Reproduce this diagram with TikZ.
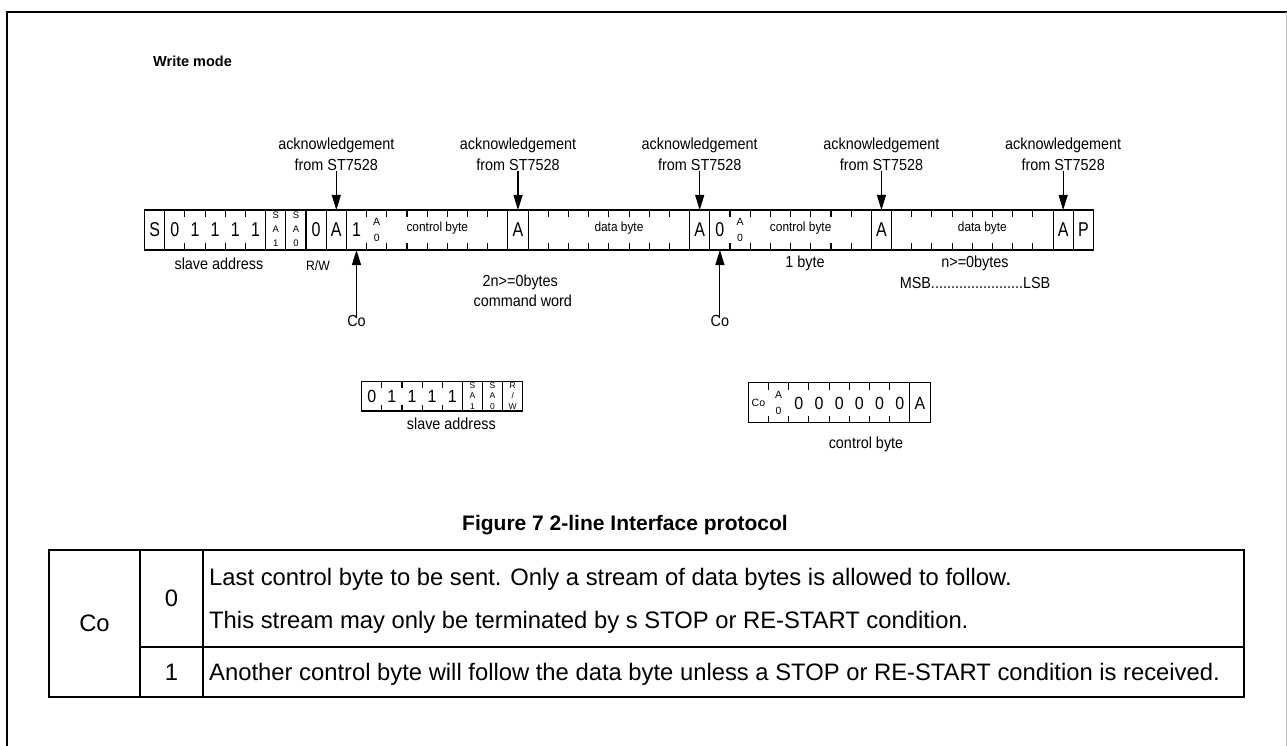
\documentclass[tikz,border=0pt]{standalone}
\usepackage{fontspec}
\setmainfont{Liberation Sans}
\newfontfamily\nf{Liberation Sans}[FakeStretch=0.9]
\usetikzlibrary{arrows.meta}
\newcommand\vst[2][1.25]{\scalebox{1}[#1]{#2}}
\begin{document}
\begin{tikzpicture}[x=1pt,y=-1pt,
  lbl/.style={inner sep=0pt, font=\nf\fontsize{16}{18}\selectfont},
  big/.style={inner sep=0pt, font=\fontsize{16}{16}\selectfont},
  stk/.style={inner sep=0pt, align=center, font=\fontsize{9.5}{13.8}\selectfont},
  stks/.style={inner sep=0pt, align=center, font=\fontsize{8.5}{10.9}\selectfont},
  ao/.style={inner sep=0pt, align=center, font=\fontsize{10.5}{16.8}\selectfont},
  fld/.style={inner sep=0pt, font=\nf\fontsize{13.2}{15}\selectfont},
  cell/.style={line width=1.1pt},
  arr/.style={-{Triangle[length=15pt,width=9pt]}, line width=1.1pt},
  tbl/.style={line width=2pt},
  ttx/.style={inner sep=0pt, font=\fontsize{23.8}{28}\selectfont},
]
\useasboundingbox (0,0) rectangle (1287,746);
% frame
\draw[line width=2pt] (7.3,760) -- (7.3,11.7) -- (1290,11.7);
\draw[gray!50, line width=0.8pt] (1286,11.7) -- (1286,760);

\node[anchor=base west, inner sep=0pt, font=\bfseries\fontsize{14.5}{17}\selectfont] (title) at (153,67) {Write mode};

% ---------------- main bar ----------------
\def\bx{144.5}\def\bw{20.19}
\draw[cell] (\bx,210) rectangle ({\bx+\bw*47},250);
\foreach \i in {1,6,7,8,9,10,18,19,27,28,36,37,45,46}
  \draw[cell] ({\bx+\bw*\i},210) -- ++(0,40);
\foreach \i in {2,...,5} {\draw[cell] ({\bx+\bw*\i},210) -- ++(0,7); \draw[cell] ({\bx+\bw*\i},250) -- ++(0,-7);}
\foreach \i in {11,...,17} {\draw[cell] ({\bx+\bw*\i},210) -- ++(0,7); \draw[cell] ({\bx+\bw*\i},250) -- ++(0,-7);}
\foreach \i in {20,...,26} {\draw[cell] ({\bx+\bw*\i},210) -- ++(0,7); \draw[cell] ({\bx+\bw*\i},250) -- ++(0,-7);}
\foreach \i in {29,...,35} {\draw[cell] ({\bx+\bw*\i},210) -- ++(0,7); \draw[cell] ({\bx+\bw*\i},250) -- ++(0,-7);}
\foreach \i in {38,...,44} {\draw[cell] ({\bx+\bw*\i},210) -- ++(0,7); \draw[cell] ({\bx+\bw*\i},250) -- ++(0,-7);}

\node[big] (b0) at ({\bx+\bw*0.5},229.5) {\vst{S}};
\node[big] (b1) at ({\bx+\bw*1.5},229.5) {\vst{0}};
\node[big] (b2) at ({\bx+\bw*2.5},229.5) {\vst{1}};
\node[big] (b3) at ({\bx+\bw*3.5},229.5) {\vst{1}};
\node[big] (b4) at ({\bx+\bw*4.5},229.5) {\vst{1}};
\node[big] (b5) at ({\bx+\bw*5.5},229.5) {\vst{1}};
\node[stk] (b6) at ({\bx+\bw*6.5},229) {S\\A\\1};
\node[stk] (b7) at ({\bx+\bw*7.5},229) {S\\A\\0};
\node[big] (b8) at ({\bx+\bw*8.5},229.5) {\vst{0}};
\node[big] (b9) at ({\bx+\bw*9.5},229.5) {\vst{A}};
\node[big] (b10) at ({\bx+\bw*10.5},229.5) {\vst{1}};
\node[ao] (b11) at ({\bx+\bw*11.5},230) {A\\0};
\node[fld, anchor=base] (cb1) at ({\bx+\bw*14.5},231.7) {control byte};
\node[big] (b18) at ({\bx+\bw*18.5},229.5) {\vst{A}};
\node[fld, anchor=base] (db1) at ({\bx+\bw*23.5},231.7) {data byte};
\node[big] (b27) at ({\bx+\bw*27.5},229.5) {\vst{A}};
\node[big] (b28) at ({\bx+\bw*28.5},229.5) {\vst{0}};
\node[ao] (b29) at ({\bx+\bw*29.5},230) {A\\0};
\node[fld, anchor=base] (cb2) at ({\bx+\bw*32.5},231.7) {control byte};
\node[big] (b36) at ({\bx+\bw*36.5},229.5) {\vst{A}};
\node[fld, anchor=base] (db2) at ({\bx+\bw*41.5},231.7) {data byte};
\node[big] (b45) at ({\bx+\bw*45.5},229.5) {\vst{A}};
\node[big] (b46) at ({\bx+\bw*46.5},229.5) {\vst{P}};

% acknowledgement arrows
\foreach \i/\n in {9/1,18/2,27/3,36/4,45/5} {
  \coordinate (t\n) at ({\bx+\bw*(\i+0.5)},210);
  \node[lbl, anchor=base] (ackA\n) at ({\bx+\bw*(\i+0.5)},149.3) {acknowledgement};
  \node[lbl, anchor=base] (ack\n) at ({\bx+\bw*(\i+0.5)},170.7) {from ST7528};
  \draw[arr] (ack\n.base) -- (t\n);
}

% Co arrows
\coordinate (u1) at ({\bx+\bw*10.5},250);
\coordinate (u2) at ({\bx+\bw*28.5},250);
\node[lbl, anchor=base] (co1) at ({\bx+\bw*10.5},326.7) {Co};
\node[lbl, anchor=base] (co2) at ({\bx+\bw*28.5},326.7) {Co};
\draw[arr] ([yshift=-3pt]co1.north) -- (u1);
\draw[arr] ([yshift=-3pt]co2.north) -- (u2);

% labels below the bar
\node[lbl, anchor=base] (sa) at (219,269) {slave address};
\node[inner sep=0pt, font=\nf\fontsize{13.5}{15}\selectfont, anchor=base] (rw) at (318,270) {R/W};
\node[lbl, anchor=base] (n2) at (520.3,286.5) {2n>=0bytes};
\node[lbl, anchor=base] (cw) at (522.8,306.5) {command word};
\node[lbl, anchor=base] (ob) at (805,267) {1 byte};
\node[lbl, anchor=base] (nb) at (975,267) {n>=0bytes};
\node[lbl, anchor=base] (ml) at (975,288) {MSB.......................LSB};

% ---------------- slave address box ----------------
\def\sx{361.7}\def\sw{20.13}
\draw[cell] (\sx,381.7) rectangle ({\sx+\sw*8},411);
\foreach \i in {5,6,7} \draw[cell] ({\sx+\sw*\i},381.7) -- (({\sx+\sw*\i},411);
\foreach \i in {1,...,4} {\draw[cell] ({\sx+\sw*\i},381.7) -- ++(0,6); \draw[cell] ({\sx+\sw*\i},411) -- ++(0,-6);}
\node[big] (s0) at ({\sx+\sw*0.5},396.3) {\vst[1.1]{0}};
\node[big] (s1) at ({\sx+\sw*1.5},396.3) {\vst[1.1]{1}};
\node[big] (s2) at ({\sx+\sw*2.5},396.3) {\vst[1.1]{1}};
\node[big] (s3) at ({\sx+\sw*3.5},396.3) {\vst[1.1]{1}};
\node[big] (s4) at ({\sx+\sw*4.5},396.3) {\vst[1.1]{1}};
\node[stks] (s5) at ({\sx+\sw*5.5},396) {S\\A\\1};
\node[stks] (s6) at ({\sx+\sw*6.5},396) {S\\A\\0};
\node[stks] (s7) at ({\sx+\sw*7.5},396) {R\\/\\W};
\node[lbl, anchor=base] (sal) at (451.3,429) {slave address};

% ---------------- control byte box ----------------
\def\cx{748.3}\def\cw{20.2}
\draw[cell] (\cx,382.7) rectangle ({\cx+\cw*9},422.7);
\draw[cell] ({\cx+\cw*8},382.7) -- ({\cx+\cw*8},422.7);
\foreach \i in {1,...,7} {\draw[cell] ({\cx+\cw*\i},382.7) -- ++(0,7); \draw[cell] ({\cx+\cw*\i},422.7) -- ++(0,-7);}
\node[inner sep=0pt, font=\fontsize{10.5}{12}\selectfont] (k0) at ({\cx+\cw*0.5},403) {Co};
\node[ao] (k1) at ({\cx+\cw*1.5},403) {A\\0};
\foreach \i in {2,...,7} \node[big] (k\i) at ({\cx+\cw*(\i+0.5)},403.5) {\vst[1.1]{0}};
\node[big] (k8) at ({\cx+\cw*8.5},403.5) {\vst[1.1]{A}};
\node[lbl, anchor=base] (cbl) at (866,448) {control byte};

% ---------------- caption ----------------
\node[inner sep=0pt, anchor=base, font=\bfseries\fontsize{21}{24}\selectfont] (cap) at (625,530) {Figure 7 2-line Interface protocol};

% ---------------- table ----------------
\draw[tbl] (49,550) rectangle (1244,697);
\draw[tbl] (140,550) -- (140,697);
\draw[tbl] (203,550) -- (203,697);
\draw[tbl] (140,647) -- (1244,647);
\node[ttx] (tco) at (94.5,623.5) {Co};
\node[ttx] (t0) at (171.5,598.5) {0};
\node[ttx] (t1) at (171.5,672) {1};
\node[ttx, anchor=base west] (l1) at (209,585) {Last control byte to be sent. Only a stream of data bytes is allowed to follow.};
\node[ttx, anchor=base west] (l2) at (209,628) {This stream may only be terminated by s STOP or RE-START condition.};
\node[ttx, anchor=base west] (l3) at (209,680) {Another control byte will follow the data byte unless a STOP or RE-START condition is received.};
\end{tikzpicture}
\end{document}
